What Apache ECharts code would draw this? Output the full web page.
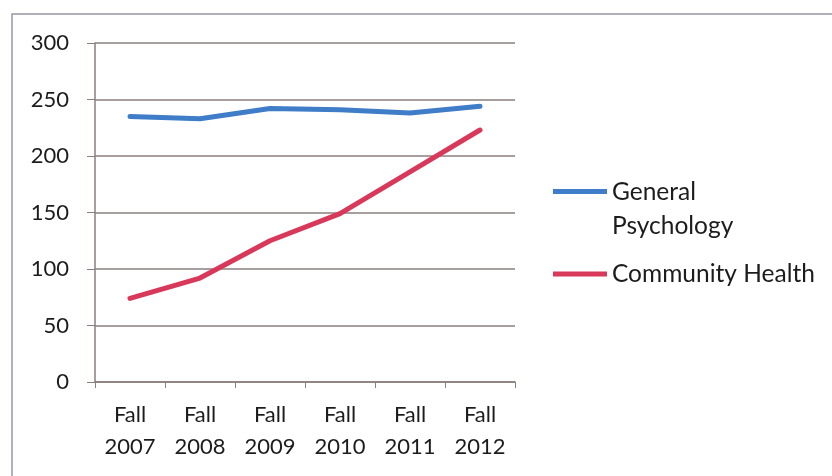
<!DOCTYPE html>
<html>
<head>
<meta charset="utf-8">
<script src="https://cdn.jsdelivr.net/npm/echarts@6/dist/echarts.min.js"></script>
<style>
  html, body { margin: 0; padding: 0; background: #fff; }
  #container { width: 832px; height: 476px; }
</style>
</head>
<body>
<div id="container"></div>
<script>
// data
var terms = ['Fall\n2007', 'Fall\n2008', 'Fall\n2009', 'Fall\n2010', 'Fall\n2011', 'Fall\n2012'];
var generalPsychology = [235, 233, 242, 241, 238, 244];
var communityHealth = [74, 92, 125, 149, 186, 223];
var seriesNames = ['General Psychology', 'Community Health'];

var dom = document.getElementById('container');
var myChart = echarts.init(dom, null, { renderer: 'canvas' });

var textColor = '#1c1c1c';
var gridColor = '#8a7f7c';
var fontFamily = 'Lato, "Noto Sans", sans-serif';

// legend icons: a 54x40 box, bar at the top (two-line name) or in the middle
var iconTop = 'path://M0,0H54V5H0Z M0,39.9H0.05V40H0Z';
var iconMid = 'path://M0,17.5H54V22.5H0Z M0,0H0.05V0.1H0Z M0,39.9H0.05V40H0Z';

var option = {
    animation: false,
    color: ['#3f7dc8', '#d8385a'],
    graphic: [
        {
            // outer chart frame
            type: 'rect',
            silent: true,
            shape: { x: 12, y: 14, width: 900, height: 900 },
            style: { fill: 'none', stroke: '#9c94a4', lineWidth: 1.5 }
        }
    ],
    grid: {
        left: 95,
        right: 317,
        top: 43,
        bottom: 94
    },
    legend: {
        orient: 'vertical',
        left: 548,
        top: 170,
        itemWidth: 54,
        itemHeight: 40,
        itemGap: 11,
        textStyle: { color: textColor, fontSize: 24.5, fontFamily: fontFamily, lineHeight: 34 },
        formatter: function (name) {
            return name === 'General Psychology' ? 'General\nPsychology' : name;
        },
        data: [
            { name: seriesNames[0], icon: iconTop },
            { name: seriesNames[1], icon: iconMid }
        ]
    },
    xAxis: {
        type: 'category',
        data: terms,
        boundaryGap: true,
        axisLine: { lineStyle: { color: gridColor, width: 1.5 } },
        axisTick: { show: true, length: 6, lineStyle: { color: gridColor } },
        axisLabel: {
            color: textColor,
            fontSize: 22,
            fontFamily: fontFamily,
            lineHeight: 32,
            margin: 17
        }
    },
    yAxis: {
        type: 'value',
        min: 0,
        max: 300,
        interval: 50,
        axisLine: { show: true, lineStyle: { color: gridColor, width: 1.5 } },
        axisTick: { show: true, length: 8, lineStyle: { color: gridColor } },
        axisLabel: { color: textColor, fontSize: 22, fontFamily: fontFamily, margin: 26 },
        splitLine: { lineStyle: { color: gridColor, width: 1.5 } }
    },
    series: [
        {
            name: seriesNames[0],
            type: 'line',
            data: generalPsychology,
            symbol: 'none',
            lineStyle: { width: 5, cap: 'round', join: 'round' }
        },
        {
            name: seriesNames[1],
            type: 'line',
            data: communityHealth,
            symbol: 'none',
            lineStyle: { width: 5, cap: 'round', join: 'round' }
        }
    ]
};

myChart.setOption(option);
window.addEventListener('resize', myChart.resize);
</script>
</body>
</html>
